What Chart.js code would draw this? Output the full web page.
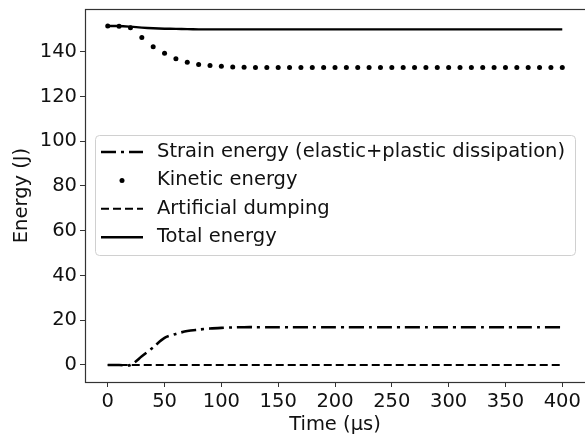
<!DOCTYPE html>
<html>
<head>
<meta charset="utf-8">
<script src="https://cdn.jsdelivr.net/npm/chart.js@4.4.1/dist/chart.umd.min.js"></script>
<style>
  html, body { margin: 0; padding: 0; background: #fff; }
  #wrap { width: 585px; height: 434px; }
</style>
</head>
<body>
<div id="wrap"><canvas id="energyChart" width="585" height="434"></canvas></div>
<script>
// time samples (µs)
const times = [0, 10, 20, 30, 40, 50, 60, 70, 80, 90,
  100, 110, 120, 130, 140, 150, 160, 170, 180, 190,
  200, 210, 220, 230, 240, 250, 260, 270, 280, 290,
  300, 310, 320, 330, 340, 350, 360, 370, 380, 390, 400];

const strainEnergy = [0, 0, 0, 3.9, 7.9, 12.1, 13.9, 15.2, 15.8, 16.3,
  16.6, 16.8, 16.9, 16.9, 16.9, 16.9, 16.9, 16.9, 16.9, 16.9,
  16.9, 16.9, 16.9, 16.9, 16.9, 16.9, 16.9, 16.9, 16.9, 16.9,
  16.9, 16.9, 16.9, 16.9, 16.9, 16.9, 16.9, 16.9, 16.9, 16.9, 16.9];

const kineticEnergy = [151.5, 151.4, 150.7, 146.4, 142.2, 139.3, 136.9, 135.3, 134.3, 133.9,
  133.5, 133.2, 133.1, 132.9, 132.9, 132.9, 132.9, 132.9, 132.9, 132.9,
  132.9, 132.9, 132.9, 132.9, 132.9, 132.9, 132.9, 132.9, 132.9, 132.9,
  132.9, 132.9, 132.9, 132.9, 132.9, 132.9, 132.9, 132.9, 132.9, 132.9, 132.9];

const dampingEnergy = [0, 0, 0, 0, 0, 0, 0, 0, 0, 0,
  0, 0, 0, 0, 0, 0, 0, 0, 0, 0,
  0, 0, 0, 0, 0, 0, 0, 0, 0, 0,
  0, 0, 0, 0, 0, 0, 0, 0, 0, 0, 0];

const totalEnergy = [151.5, 151.5, 151.2, 150.8, 150.5, 150.3, 150.2, 150.1, 150.0, 150.0,
  150.0, 150.0, 150.0, 150.0, 150.0, 150.0, 150.0, 150.0, 150.0, 150.0,
  150.0, 150.0, 150.0, 150.0, 150.0, 150.0, 150.0, 150.0, 150.0, 150.0,
  150.0, 150.0, 150.0, 150.0, 150.0, 150.0, 150.0, 150.0, 150.0, 150.0, 150.0];

const xTicks = [0, 50, 100, 150, 200, 250, 300, 350, 400];
const yTicks = [0, 20, 40, 60, 80, 100, 120, 140];

const FONT = 'DejaVu Sans';
const FSIZE = 19.5;
const toPoints = (vals) => vals.map((v, i) => ({ x: times[i], y: v }));

// plot frame (matplotlib style box, right side falls off the canvas)
const frame = {
  id: 'frame',
  afterDraw(chart) {
    const { ctx, chartArea: a } = chart;
    ctx.save();
    ctx.strokeStyle = '#333';
    ctx.lineWidth = 1.2;
    ctx.strokeRect(a.left + 0.5, a.top + 0.5, a.right - a.left + 2, a.bottom - a.top);
    ctx.restore();
  }
};

// legend box inside the plot
const boxLegend = {
  id: 'boxLegend',
  afterDatasetsDraw(chart) {
    const { ctx, chartArea: a } = chart;
    const bx = a.left + 10, by = 135, bw = 480, bh = 120;
    ctx.save();
    ctx.beginPath();
    ctx.roundRect(bx + 0.5, by + 0.5, bw, bh, 4);
    ctx.fillStyle = 'rgba(255,255,255,0.85)';
    ctx.fill();
    ctx.strokeStyle = '#d0d0d0';
    ctx.lineWidth = 1;
    ctx.stroke();

    chart.data.datasets.forEach((ds, i) => {
      const y = 152 + i * 28.4;
      const x1 = bx + 6, x2 = bx + 48;
      if (ds.showLine === false) {
        ctx.beginPath();
        ctx.arc((x1 + x2) / 2, y, ds.pointRadius, 0, Math.PI * 2);
        ctx.fillStyle = ds.pointBackgroundColor;
        ctx.fill();
      } else {
        ctx.beginPath();
        ctx.setLineDash(ds.borderDash || []);
        ctx.lineWidth = ds.borderWidth;
        ctx.strokeStyle = ds.borderColor;
        ctx.moveTo(x1, y);
        ctx.lineTo(x2, y);
        ctx.stroke();
        ctx.setLineDash([]);
      }
      ctx.fillStyle = '#111';
      ctx.font = FSIZE + 'px "' + FONT + '"';
      ctx.textBaseline = 'middle';
      ctx.textAlign = 'left';
      ctx.fillText(ds.label, bx + 62, y);
    });
    ctx.restore();
  }
};

new Chart(document.getElementById('energyChart'), {
  type: 'line',
  data: {
    datasets: [{
      label: 'Strain energy (elastic+plastic dissipation)',
      data: toPoints(strainEnergy),
      borderColor: '#000',
      borderWidth: 2.6,
      borderDash: [15, 5, 3, 5],
      pointRadius: 0,
      tension: 0.3
    }, {
      label: 'Kinetic energy',
      data: toPoints(kineticEnergy),
      showLine: false,
      pointRadius: 2.5,
      pointBackgroundColor: '#000',
      pointBorderWidth: 0
    }, {
      label: 'Artificial dumping',
      data: toPoints(dampingEnergy),
      borderColor: '#000',
      borderWidth: 2,
      borderDash: [8, 4],
      pointRadius: 0
    }, {
      label: 'Total energy',
      data: toPoints(totalEnergy),
      borderColor: '#000',
      borderWidth: 2.4,
      pointRadius: 0,
      tension: 0.3
    }]
  },
  options: {
    responsive: false,
    animation: false,
    layout: { autoPadding: false, padding: { top: 9, right: 0, bottom: 0, left: 0 } },
    plugins: { legend: { display: false }, tooltip: { enabled: false } },
    scales: {
      x: {
        type: 'linear',
        min: -20,
        max: 420,
        afterBuildTicks: (s) => { s.ticks = xTicks.map(v => ({ value: v })); },
        afterFit: (s) => { s.height = 52; s.paddingLeft = 0; s.paddingRight = 0; },
        border: { display: false },
        grid: { drawOnChartArea: false, drawTicks: true, tickLength: 5, tickColor: '#333' },
        ticks: { color: '#111', font: { family: FONT, size: FSIZE }, padding: 3, maxRotation: 0 },
        title: { display: true, text: 'Time (µs)', color: '#111', font: { family: FONT, size: FSIZE, lineHeight: 1 }, padding: { top: 0, bottom: -1 } }
      },
      y: {
        type: 'linear',
        min: -7.6,
        max: 159.1,
        afterBuildTicks: (s) => { s.ticks = yTicks.map(v => ({ value: v })); },
        afterFit: (s) => { s.width = 85; s.paddingTop = 0; s.paddingBottom = 0; },
        border: { display: false },
        grid: { drawOnChartArea: false, drawTicks: true, tickLength: 5, tickColor: '#333' },
        ticks: { color: '#111', font: { family: FONT, size: FSIZE }, padding: 3 },
        title: { display: true, text: 'Energy (J)', color: '#111', font: { family: FONT, size: FSIZE, lineHeight: 1 }, padding: { top: 12, bottom: 0 } }
      }
    }
  },
  plugins: [frame, boxLegend]
});
</script>
</body>
</html>
